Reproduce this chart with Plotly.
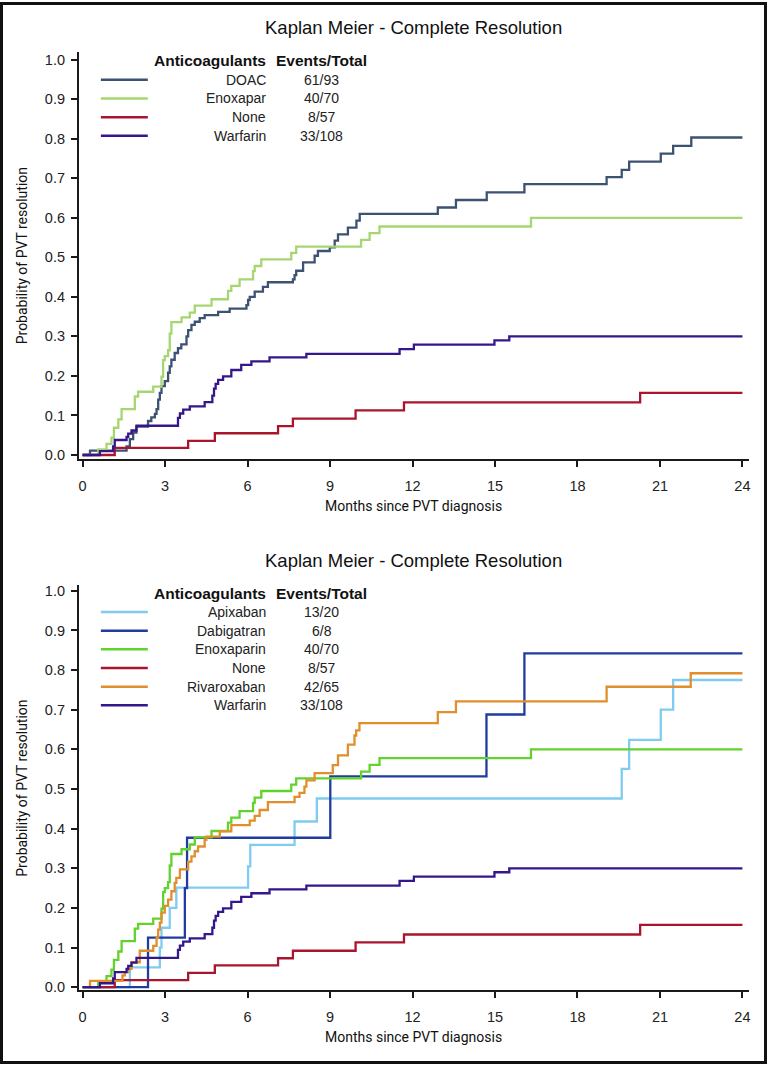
import plotly.graph_objects as go

W, H = 769, 1070
FOLLOW_UP_END = 24

# ---------------- data ----------------
t_doac = [0, 0.27, 1.60, 1.72, 1.84, 1.96, 2.38, 2.50, 2.63, 2.69, 2.75, 2.81, 2.87, 2.99, 3.11, 3.17, 3.23, 3.35,
          3.47, 3.59, 3.78, 3.84, 3.96, 4.08, 4.26, 4.44, 4.93, 5.35, 5.96, 6.02, 6.08, 6.26, 6.56, 6.74, 7.65, 7.71,
          7.77, 8.02, 8.44, 8.56, 8.99, 9.17, 9.29, 9.65, 9.96, 10.08, 12.92, 13.58, 14.70, 16.07, 19.06, 19.61,
          19.88, 21.03, 21.48, 22.14]
p_doac = [0, 0.011, 0.022, 0.040, 0.057, 0.072, 0.086, 0.095, 0.104, 0.116, 0.140, 0.157, 0.174, 0.187, 0.208,
          0.224, 0.241, 0.258, 0.270, 0.280, 0.300, 0.316, 0.329, 0.337, 0.346, 0.354, 0.362, 0.370, 0.379, 0.392,
          0.400, 0.413, 0.425, 0.437, 0.444, 0.455, 0.466, 0.487, 0.504, 0.516, 0.525, 0.542, 0.558, 0.575, 0.593,
          0.610, 0.626, 0.645, 0.664, 0.685, 0.703, 0.721, 0.742, 0.762, 0.782, 0.803]

t_enox = [0, 0.57, 0.87, 1.05, 1.14, 1.30, 1.42, 1.90, 2.02, 2.57, 2.87, 2.93, 2.99, 3.11, 3.17, 3.23, 3.60, 3.90,
          4.08, 4.69, 5.29, 5.41, 5.71, 6.20, 6.26, 6.50, 7.59, 7.77, 10.13, 10.44, 10.80, 16.31]
p_enox = [0, 0.014, 0.028, 0.044, 0.069, 0.090, 0.116, 0.148, 0.160, 0.173, 0.198, 0.240, 0.250, 0.265, 0.307,
          0.336, 0.348, 0.360, 0.378, 0.394, 0.415, 0.428, 0.444, 0.465, 0.478, 0.495, 0.511, 0.527, 0.544, 0.561,
          0.578, 0.600]

t_none = [0, 1.17, 3.84, 4.81, 7.11, 7.65, 9.93, 11.69, 20.28]
p_none = [0, 0.018, 0.036, 0.055, 0.073, 0.092, 0.113, 0.133, 0.157]

t_warf = [0, 0.63, 1.11, 1.17, 1.60, 1.66, 1.78, 1.96, 3.47, 3.54, 3.66, 3.90, 4.44, 4.72, 4.78, 4.84, 4.93, 5.11,
          5.41, 5.77, 6.14, 6.80, 8.14, 11.53, 12.05, 14.98, 15.52]
p_warf = [0, 0.010, 0.022, 0.038, 0.046, 0.054, 0.062, 0.074, 0.094, 0.105, 0.115, 0.123, 0.134, 0.150, 0.168,
          0.180, 0.190, 0.199, 0.215, 0.228, 0.237, 0.247, 0.256, 0.268, 0.279, 0.290, 0.300]

t_apix = [0, 1.72, 2.81, 2.87, 3.17, 3.41, 6.02, 6.10, 7.71, 8.52, 19.61, 19.88, 21.03, 21.48]
p_apix = [0, 0.050, 0.100, 0.150, 0.200, 0.251, 0.305, 0.359, 0.418, 0.476, 0.551, 0.624, 0.700, 0.775]

t_dabi = [0, 2.38, 3.72, 3.80, 9.01, 14.69, 16.07]
p_dabi = [0, 0.125, 0.250, 0.377, 0.532, 0.688, 0.842]

t_riva = [0, 0.27, 1.45, 1.54, 1.66, 1.78, 2.08, 2.57, 2.69, 2.75, 2.81, 2.87, 2.99, 3.11, 3.23, 3.35, 3.41, 3.54,
          3.84, 3.96, 4.08, 4.20, 4.44, 4.50, 4.99, 5.41, 6.08, 6.26, 6.44, 6.74, 7.71, 7.89, 8.07, 8.14, 8.44,
          9.10, 9.29, 9.65, 9.89, 9.95, 10.07, 12.92, 13.58, 19.06, 22.12]
p_riva = [0, 0.016, 0.030, 0.038, 0.046, 0.063, 0.092, 0.104, 0.125, 0.145, 0.163, 0.188, 0.205, 0.221, 0.242,
          0.263, 0.276, 0.297, 0.317, 0.330, 0.343, 0.355, 0.372, 0.380, 0.393, 0.409, 0.420, 0.432, 0.447, 0.467,
          0.480, 0.490, 0.506, 0.522, 0.540, 0.560, 0.585, 0.612, 0.635, 0.648, 0.666, 0.694, 0.721, 0.758, 0.792]

top_names = ["DOAC", "Enoxapar", "None", "Warfarin"]
top_counts = ["61/93", "40/70", "8/57", "33/108"]
top_colors = ["#3d5272", "#a6d672", "#a8162e", "#35178c"]
top_series = [(t_doac, p_doac), (t_enox, p_enox), (t_none, p_none), (t_warf, p_warf)]

bot_names = ["Apixaban", "Dabigatran", "Enoxaparin", "None", "Rivaroxaban", "Warfarin"]
bot_counts = ["13/20", "6/8", "40/70", "8/57", "42/65", "33/108"]
bot_colors = ["#80cbf0", "#1f3c9e", "#62d22c", "#a8162e", "#e08f2c", "#35178c"]
bot_series = [(t_apix, p_apix), (t_dabi, p_dabi), (t_enox, p_enox), (t_none, p_none), (t_riva, p_riva),
              (t_warf, p_warf)]

title_text = "Kaplan Meier - Complete Resolution"
x_title = "Months since PVT diagnosis"
y_title = "Probability of PVT resolution"
x_ticks = [0, 3, 6, 9, 12, 15, 18, 21, 24]
y_ticks = [0, 0.1, 0.2, 0.3, 0.4, 0.5, 0.6, 0.7, 0.8, 0.9, 1.0]

# ---------------- layout helpers (pixel -> paper) ----------------
def px(x):
    return x / W

def py(y):
    return 1 - y / H

FONT = "Liberation Sans, Arial, Helvetica, sans-serif"
NARROW = "Roboto, Liberation Sans, sans-serif"

fig = go.Figure()

def add_series(series, names, colors, xa, ya):
    for (t, p), n, c in zip(series, names, colors):
        fig.add_trace(go.Scatter(
            x=list(t) + [FOLLOW_UP_END], y=list(p) + [p[-1]],
            mode="lines", line=dict(color=c, width=2.3, shape="hv"),
            name=n, xaxis=xa, yaxis=ya, showlegend=False, hoverinfo="x+y+name"))

add_series(top_series, top_names, top_colors, "x", "y")
add_series(bot_series, bot_names, bot_colors, "x2", "y2")

axis_common = dict(showline=True, linecolor="#1a1a1a", linewidth=2, ticks="outside", ticklen=6,
                   tickwidth=1.5, tickcolor="#1a1a1a", showgrid=False, zeroline=False,
                   tickfont=dict(family=FONT, size=14.5, color="#222"))

x_dom = [px(79), px(750)]
x_rng = [-0.134, 24.24]

fig.update_layout(
    width=W, height=H, margin=dict(l=0, r=0, t=0, b=0),
    paper_bgcolor="white", plot_bgcolor="white", showlegend=False,
    xaxis=dict(domain=x_dom, range=x_rng, tickvals=x_ticks, anchor="y", ticklabelstandoff=6, **axis_common),
    yaxis=dict(domain=[py(460.5), py(50)], range=[-0.0113, 1.0201], tickvals=y_ticks, tickformat=".1f",
               anchor="x", ticklabelstandoff=3, **axis_common),
    xaxis2=dict(domain=x_dom, range=x_rng, tickvals=x_ticks, anchor="y2", ticklabelstandoff=6, **axis_common),
    yaxis2=dict(domain=[py(995), py(586.7)], range=[-0.0083, 1.015], tickvals=y_ticks, tickformat=".1f",
                anchor="x2", ticklabelstandoff=3, **axis_common),
)

annotations = []
shapes = []

def panel_text(title_y, xtitle_y, ytitle_y, header_y, row_y0, names, counts, colors):
    annotations.append(dict(x=px(414), y=py(title_y), xref="paper", yref="paper", text=title_text,
                            showarrow=False, xanchor="center", yanchor="middle",
                            font=dict(family=FONT, size=18.5, color="#111")))
    annotations.append(dict(x=px(414), y=py(xtitle_y), xref="paper", yref="paper", text=x_title,
                            showarrow=False, xanchor="center", yanchor="middle",
                            font=dict(family=NARROW, size=14, color="#111")))
    annotations.append(dict(x=px(22), y=py(ytitle_y), xref="paper", yref="paper", text=y_title,
                            showarrow=False, xanchor="center", yanchor="middle", textangle=-90,
                            font=dict(family=NARROW, size=14, color="#111")))
    annotations.append(dict(x=px(268), y=py(header_y), xref="paper", yref="paper",
                            text="<b>Anticoagulants</b>", showarrow=False, xanchor="right", yanchor="middle",
                            font=dict(family=FONT, size=15.5, color="#111")))
    annotations.append(dict(x=px(322), y=py(header_y), xref="paper", yref="paper",
                            text="<b>Events/Total</b>", showarrow=False, xanchor="center", yanchor="middle",
                            font=dict(family=FONT, size=15.5, color="#111")))
    step = 18.8
    for i, (n, c, col) in enumerate(zip(names, counts, colors)):
        yy = row_y0 + i * step
        annotations.append(dict(x=px(268), y=py(yy), xref="paper", yref="paper", text=n, showarrow=False,
                                xanchor="right", yanchor="middle",
                                font=dict(family=FONT, size=14, color="#222")))
        annotations.append(dict(x=px(322), y=py(yy), xref="paper", yref="paper", text=c, showarrow=False,
                                xanchor="center", yanchor="middle",
                                font=dict(family=FONT, size=14, color="#222")))
        shapes.append(dict(type="line", xref="paper", yref="paper", x0=px(101), x1=px(148),
                           y0=py(yy), y1=py(yy), line=dict(color=col, width=2.5)))

panel_text(26, 507, 255, 59.3, 78.3, top_names, top_counts, top_colors)
panel_text(562, 1042, 791, 595, 614, bot_names, bot_counts, bot_colors)

# outer frame
shapes.append(dict(type="rect", xref="paper", yref="paper", x0=px(1.5), x1=px(766.5), y0=py(1067.5),
                   y1=py(1.5), line=dict(color="#111", width=3), fillcolor="rgba(0,0,0,0)"))

fig.update_layout(annotations=annotations, shapes=shapes)
fig.write_html("out.html", config={"displayModeBar": False},
               post_script="document.body.style.margin='0';document.body.style.overflow='hidden';")
